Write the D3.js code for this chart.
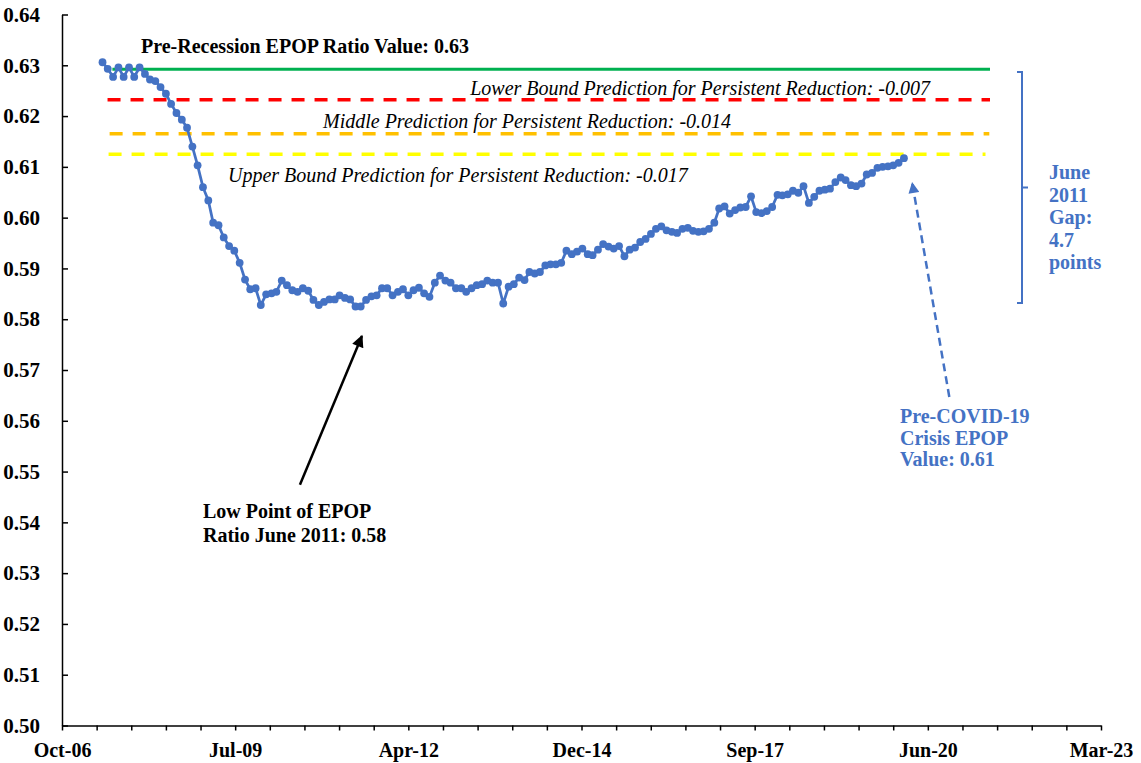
<!doctype html>
<html>
<head>
<meta charset="utf-8">
<style>
  body { margin: 0; background: #fff; }
  svg { display: block; font-family: "Liberation Serif", "Times New Roman", serif; }
  .axis path, .axis line { stroke: #000; stroke-width: 1.5; fill: none; }
</style>
<script src="https://cdnjs.cloudflare.com/ajax/libs/d3/7.8.5/d3.min.js"></script>
</head>
<body>
<svg width="1141" height="763"></svg>
<script>
// monthly EPOP ratio, first month Jun 2007
var startMonth = Date.UTC(2007, 5, 1);
var epop = [
  0.6306, 0.6293, 0.6277, 0.6296, 0.6277, 0.6296, 0.6277, 0.6296, 0.6283, 0.6272,
  0.6269, 0.6257, 0.6244, 0.6224, 0.6206, 0.6193, 0.6177, 0.6140, 0.6103, 0.6060,
  0.6034, 0.5990, 0.5985, 0.5961, 0.5944, 0.5935, 0.5911, 0.5878, 0.5859, 0.5861,
  0.5828, 0.5849, 0.5851, 0.5854, 0.5876, 0.5867, 0.5857, 0.5854, 0.5861, 0.5856,
  0.5838, 0.5828, 0.5834, 0.5839, 0.5839, 0.5847, 0.5842, 0.5839, 0.5825, 0.5825,
  0.5838, 0.5845, 0.5847, 0.5861,
  0.5861, 0.5847, 0.5854, 0.5859, 0.5847, 0.5857, 0.5862, 0.5851, 0.5844, 0.5872,
  0.5886, 0.5876, 0.5872, 0.5861, 0.5861, 0.5854, 0.5861, 0.5867, 0.5869, 0.5876,
  0.5872, 0.5872, 0.5831, 0.5864, 0.5869, 0.5882, 0.5877, 0.5893, 0.5890, 0.5893,
  0.5906, 0.5908, 0.5908, 0.5911, 0.5935, 0.5928, 0.5933, 0.5939, 0.5928, 0.5926,
  0.5937, 0.5948, 0.5943, 0.5939, 0.5944, 0.5924, 0.5937, 0.5941, 0.5952,
  0.5958, 0.5968, 0.5978, 0.5983, 0.5975, 0.5972, 0.5970, 0.5978, 0.5980, 0.5974,
  0.5972, 0.5973, 0.5978, 0.5990, 0.6018, 0.6022, 0.6008, 0.6015, 0.6020,
  0.6021, 0.6042, 0.6011, 0.6009, 0.6013, 0.6021, 0.6045, 0.6044, 0.6046, 0.6053,
  0.6049, 0.6062, 0.6029, 0.6041, 0.6053, 0.6055, 0.6057, 0.6070, 0.6079, 0.6074,
  0.6064, 0.6062, 0.6067, 0.6085, 0.6088, 0.6098, 0.6100, 0.6101, 0.6103, 0.6108,
  0.6117
];

// horizontal reference lines
var refNames  = ["pre", "lower", "middle", "upper"];
var refValues = [0.6292, 0.6232, 0.6165, 0.6125];
var refStart  = [Date.UTC(2007, 6, 28), Date.UTC(2007, 5, 30), Date.UTC(2007, 6, 12), Date.UTC(2007, 6, 6)];
var refEnd    = [Date.UTC(2021, 5, 12), Date.UTC(2021, 5, 12), Date.UTC(2021, 5, 8), Date.UTC(2021, 4, 17)];
var refLabels = [
  "Pre-Recession EPOP Ratio Value: 0.63",
  "Lower Bound Prediction for Persistent Reduction: -0.007",
  "Middle Prediction for Persistent Reduction: -0.014",
  "Upper Bound Prediction for Persistent Reduction: -0.017"
];

// gap bracket (June 2011 low to pre-recession level)
var gapTop = 0.6287, gapBottom = 0.5832;
var gapLabel = ["June", "2011", "Gap:", "4.7", "points"];

var lowLabel = ["Low Point of EPOP", "Ratio June 2011: 0.58"];
var covidLabel = ["Pre-COVID-19", "Crisis EPOP", "Value: 0.61"];

// axis ticks: excel serial 39000 .. 45000, minor every 200 days, label every 1000
var axisStart = Date.UTC(2006, 9, 10), axisEnd = Date.UTC(2023, 2, 15);
var yTicks = [0.50, 0.51, 0.52, 0.53, 0.54, 0.55, 0.56, 0.57, 0.58, 0.59, 0.60, 0.61, 0.62, 0.63, 0.64];

var serif = "Liberation Serif";
var svg = d3.select("svg");
var blue = "#4472C4";

var x = d3.scaleUtc().domain([axisStart, axisEnd]).range([62, 1101]);
var y = d3.scaleLinear().domain([0.50, 0.64]).range([725.5, 14.5]);

var data = epop.map(function(v, i) {
  return { date: d3.utcMonth.offset(new Date(startMonth), i), value: v };
});

var dayMs = 86400000;
var xTicks = d3.range(0, 31).map(function(k) { return new Date(axisStart + k * 200 * dayMs); });
var fmt = d3.utcFormat("%b-%y");

// x axis
var gx = svg.append("g")
  .attr("class", "axis")
  .attr("transform", "translate(0," + y(0.50) + ")")
  .call(d3.axisBottom(x).tickValues(xTicks).tickSizeInner(5).tickSizeOuter(0)
    .tickFormat(function(d, i) { return i % 5 === 0 ? fmt(d) : ""; }));
gx.attr("font-family", serif).attr("font-size", 20);
gx.selectAll("text")
  .attr("font-family", serif).attr("font-weight", "bold").attr("fill", "#000")
  .attr("font-size", 20).attr("y", 17).attr("dy", "0.71em");

// y axis
var gy = svg.append("g")
  .attr("class", "axis")
  .attr("transform", "translate(" + x(axisStart) + ",0)")
  .call(d3.axisLeft(y).tickValues(yTicks).tickSizeInner(-6).tickSizeOuter(0).tickPadding(22)
    .tickFormat(d3.format(".2f")));
gy.attr("font-family", serif).attr("font-size", 21);
gy.selectAll("text")
  .attr("font-family", serif).attr("font-weight", "bold").attr("fill", "#000")
  .attr("font-size", 21);

// reference lines
var refStyle = {
  pre:    { color: "#00B050", dash: null },
  lower:  { color: "#FF0000", dash: "13,10" },
  middle: { color: "#FFC000", dash: "13,10" },
  upper:  { color: "#FFFF00", dash: "13,10" }
};
refNames.forEach(function(n, i) {
  svg.append("line")
    .attr("x1", x(refStart[i])).attr("x2", x(refEnd[i]))
    .attr("y1", y(refValues[i])).attr("y2", y(refValues[i]))
    .attr("stroke", refStyle[n].color)
    .attr("stroke-width", n === "pre" ? 3 : 3.5)
    .attr("stroke-dasharray", refStyle[n].dash);
});

// ref labels
svg.append("text").attr("x", 141).attr("y", 53)
  .attr("font-size", 20).attr("font-weight", "bold").text(refLabels[0]);
svg.append("text").attr("x", 930).attr("y", 95).attr("text-anchor", "end")
  .attr("font-size", 20).attr("font-style", "italic").text(refLabels[1]);
svg.append("text").attr("x", 323).attr("y", 128)
  .attr("font-size", 20).attr("font-style", "italic").text(refLabels[2]);
svg.append("text").attr("x", 228).attr("y", 182)
  .attr("font-size", 20).attr("font-style", "italic").text(refLabels[3]);

// EPOP series
var line = d3.line()
  .x(function(d) { return x(d.date); })
  .y(function(d) { return y(d.value); });

svg.append("path")
  .datum(data)
  .attr("d", line)
  .attr("fill", "none")
  .attr("stroke", blue)
  .attr("stroke-width", 2.75);

svg.selectAll(".dot")
  .data(data)
  .enter().append("circle")
  .attr("class", "dot")
  .attr("cx", function(d) { return x(d.date); })
  .attr("cy", function(d) { return y(d.value); })
  .attr("r", 3.9)
  .attr("fill", blue);

// arrow markers
var defs = svg.append("defs");
defs.append("marker").attr("id", "headBlack")
  .attr("viewBox", "0 0 10 10").attr("refX", 9).attr("refY", 5)
  .attr("markerUnits", "userSpaceOnUse").attr("markerWidth", 13).attr("markerHeight", 12)
  .attr("orient", "auto")
  .append("path").attr("d", "M0,0 L10,5 L0,10 Z").attr("fill", "#000");
defs.append("marker").attr("id", "headBlue")
  .attr("viewBox", "0 0 10 10").attr("refX", 9).attr("refY", 5)
  .attr("markerUnits", "userSpaceOnUse").attr("markerWidth", 12).attr("markerHeight", 11)
  .attr("orient", "auto")
  .append("path").attr("d", "M0,0 L10,5 L0,10 Z").attr("fill", blue);

// low point arrow
var lowTail = [Date.UTC(2010, 6, 15), 0.5474], lowTip = [Date.UTC(2011, 6, 8), 0.5767];
svg.append("line")
  .attr("x1", x(lowTail[0])).attr("y1", y(lowTail[1]))
  .attr("x2", x(lowTip[0])).attr("y2", y(lowTip[1]))
  .attr("stroke", "#000").attr("stroke-width", 2.5)
  .attr("marker-end", "url(#headBlack)");

svg.append("text").attr("x", 203).attr("y", 518)
  .attr("font-size", 20).attr("font-weight", "bold")
  .selectAll("tspan").data(lowLabel).enter().append("tspan")
  .attr("x", 203).attr("dy", function(d, i) { return i ? 23.5 : 0; })
  .text(function(d) { return d; });

// pre-covid arrow
var covTail = [Date.UTC(2020, 9, 20), 0.5647], covTip = [Date.UTC(2020, 2, 20), 0.6068];
svg.append("line")
  .attr("x1", x(covTail[0])).attr("y1", y(covTail[1]))
  .attr("x2", x(covTip[0])).attr("y2", y(covTip[1]))
  .attr("stroke", blue).attr("stroke-width", 2.5)
  .attr("stroke-dasharray", "8,5")
  .attr("marker-end", "url(#headBlue)");

svg.append("text").attr("x", 900).attr("y", 423)
  .attr("font-size", 20).attr("font-weight", "bold").attr("fill", blue)
  .selectAll("tspan").data(covidLabel).enter().append("tspan")
  .attr("x", 900).attr("dy", function(d, i) { return i ? 21.5 : 0; })
  .text(function(d) { return d; });

// gap bracket
var bx = 1022, yt = y(gapTop), yb = y(gapBottom), ym = (yt + yb) / 2;
svg.append("path")
  .attr("d", "M" + (bx - 5) + "," + yt + "H" + bx + "V" + yb + "H" + (bx - 5) +
             "M" + bx + "," + ym + "H" + (bx + 6))
  .attr("fill", "none").attr("stroke", blue).attr("stroke-width", 2);

svg.append("text").attr("x", 1049).attr("y", 179)
  .attr("font-size", 20).attr("font-weight", "bold").attr("fill", blue)
  .selectAll("tspan").data(gapLabel).enter().append("tspan")
  .attr("x", 1049).attr("dy", function(d, i) { return i ? 22.5 : 0; })
  .text(function(d) { return d; });
</script>
</body>
</html>
